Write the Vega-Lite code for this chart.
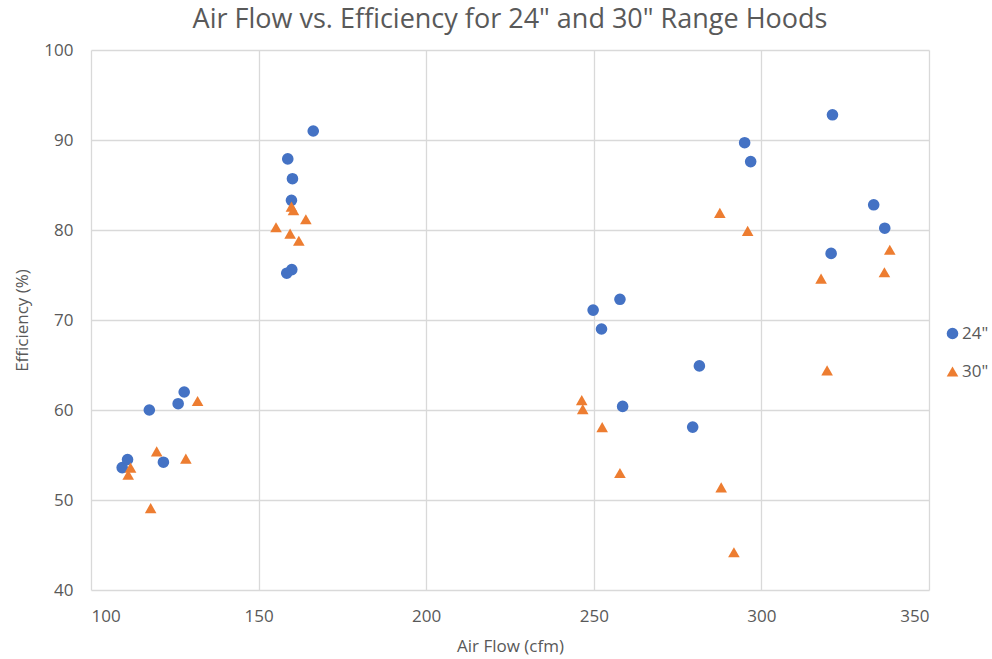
{
  "$schema": "https://vega.github.io/schema/vega-lite/v6.json",
  "autosize": {"type": "none"},
  "padding": {"left": 91, "top": 50, "right": 63, "bottom": 69},
  "width": 838,
  "height": 540,
  "background": "white",
  "title": {
    "text": "Air Flow vs. Efficiency for 24\" and 30\" Range Hoods",
    "font": "Open Sans",
    "fontSize": 27,
    "fontWeight": "normal",
    "color": "#595959",
    "anchor": "middle",
    "offset": 7
  },
  "config": {
    "view": {"stroke": null},
    "font": "Open Sans"
  },
  "data": {
    "values": [
      {"series": "24\"", "airflow": 109.3, "efficiency": 53.6},
      {"series": "24\"", "airflow": 110.9, "efficiency": 54.5},
      {"series": "24\"", "airflow": 117.4, "efficiency": 60.0},
      {"series": "24\"", "airflow": 121.6, "efficiency": 54.2},
      {"series": "24\"", "airflow": 126.0, "efficiency": 60.7},
      {"series": "24\"", "airflow": 127.8, "efficiency": 62.0},
      {"series": "24\"", "airflow": 166.3, "efficiency": 91.0},
      {"series": "24\"", "airflow": 158.7, "efficiency": 87.9},
      {"series": "24\"", "airflow": 160.1, "efficiency": 85.7},
      {"series": "24\"", "airflow": 159.8, "efficiency": 83.3},
      {"series": "24\"", "airflow": 159.9, "efficiency": 75.6},
      {"series": "24\"", "airflow": 158.4, "efficiency": 75.2},
      {"series": "24\"", "airflow": 249.8, "efficiency": 71.1},
      {"series": "24\"", "airflow": 252.3, "efficiency": 69.0},
      {"series": "24\"", "airflow": 257.8, "efficiency": 72.3},
      {"series": "24\"", "airflow": 258.6, "efficiency": 60.4},
      {"series": "24\"", "airflow": 281.5, "efficiency": 64.9},
      {"series": "24\"", "airflow": 279.5, "efficiency": 58.1},
      {"series": "24\"", "airflow": 321.2, "efficiency": 92.8},
      {"series": "24\"", "airflow": 295.0, "efficiency": 89.7},
      {"series": "24\"", "airflow": 296.8, "efficiency": 87.6},
      {"series": "24\"", "airflow": 333.5, "efficiency": 82.8},
      {"series": "24\"", "airflow": 336.8, "efficiency": 80.2},
      {"series": "24\"", "airflow": 320.8, "efficiency": 77.4},
      {"series": "30\"", "airflow": 131.8, "efficiency": 61.0},
      {"series": "30\"", "airflow": 119.6, "efficiency": 55.4},
      {"series": "30\"", "airflow": 111.8, "efficiency": 53.6},
      {"series": "30\"", "airflow": 111.1, "efficiency": 52.8},
      {"series": "30\"", "airflow": 128.3, "efficiency": 54.6},
      {"series": "30\"", "airflow": 117.8, "efficiency": 49.1},
      {"series": "30\"", "airflow": 159.8, "efficiency": 82.6},
      {"series": "30\"", "airflow": 160.4, "efficiency": 82.2},
      {"series": "30\"", "airflow": 164.1, "efficiency": 81.2},
      {"series": "30\"", "airflow": 155.2, "efficiency": 80.3},
      {"series": "30\"", "airflow": 159.4, "efficiency": 79.6},
      {"series": "30\"", "airflow": 162.0, "efficiency": 78.8},
      {"series": "30\"", "airflow": 246.4, "efficiency": 61.1},
      {"series": "30\"", "airflow": 246.7, "efficiency": 60.1},
      {"series": "30\"", "airflow": 252.5, "efficiency": 58.1},
      {"series": "30\"", "airflow": 257.8, "efficiency": 53.0},
      {"series": "30\"", "airflow": 288.0, "efficiency": 51.4},
      {"series": "30\"", "airflow": 291.8, "efficiency": 44.2},
      {"series": "30\"", "airflow": 287.6, "efficiency": 81.9},
      {"series": "30\"", "airflow": 295.9, "efficiency": 79.9},
      {"series": "30\"", "airflow": 338.3, "efficiency": 77.8},
      {"series": "30\"", "airflow": 336.7, "efficiency": 75.3},
      {"series": "30\"", "airflow": 317.8, "efficiency": 74.6},
      {"series": "30\"", "airflow": 319.6, "efficiency": 64.4}
    ]
  },
  "mark": {"type": "point", "filled": true, "size": 135, "opacity": 1},
  "encoding": {
    "x": {
      "field": "airflow",
      "type": "quantitative",
      "scale": {"domain": [100, 350], "nice": false, "zero": false},
      "axis": {
        "title": "Air Flow (cfm)",
        "values": [100, 150, 200, 250, 300, 350],
        "grid": true,
        "gridColor": "#D9D9D9",
        "gridWidth": 1.3,
        "domain": false,
        "ticks": false,
        "labelFont": "Open Sans",
        "labelFontSize": 17,
        "labelColor": "#595959",
        "labelPadding": 18,
        "titleFont": "Open Sans",
        "titleFontSize": 17,
        "titleFontWeight": "normal",
        "titleColor": "#595959",
        "titlePadding": 14
      }
    },
    "y": {
      "field": "efficiency",
      "type": "quantitative",
      "scale": {"domain": [40, 100], "nice": false, "zero": false},
      "axis": {
        "title": "Efficiency (%)",
        "values": [40, 50, 60, 70, 80, 90, 100],
        "grid": true,
        "gridColor": "#D9D9D9",
        "gridWidth": 1.3,
        "domain": false,
        "ticks": false,
        "labelFont": "Open Sans",
        "labelFontSize": 17,
        "labelColor": "#595959",
        "labelPadding": 18,
        "titleFont": "Open Sans",
        "titleFontSize": 17,
        "titleFontWeight": "normal",
        "titleColor": "#595959",
        "titlePadding": 12
      }
    },
    "color": {
      "field": "series",
      "type": "nominal",
      "scale": {"domain": ["24\"", "30\""], "range": ["#4472C4", "#ED7D31"]},
      "legend": {
        "title": null,
        "orient": "none",
        "legendX": 853,
        "legendY": 275,
        "labelFont": "Open Sans",
        "labelFontSize": 17,
        "labelColor": "#595959",
        "symbolSize": 135,
        "rowPadding": 20,
        "labelOffset": 1
      }
    },
    "shape": {
      "field": "series",
      "type": "nominal",
      "scale": {"domain": ["24\"", "30\""], "range": ["circle", "triangle-up"]}
    }
  }
}
